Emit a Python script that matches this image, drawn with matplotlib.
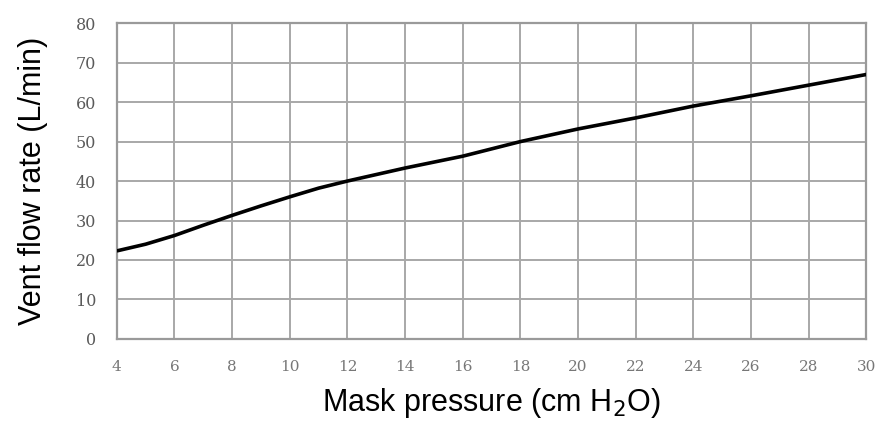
import matplotlib
matplotlib.use("Agg")
import matplotlib.pyplot as plt

pressure = [4, 5, 6, 7, 8, 9, 10, 11, 12, 14, 16, 18, 20, 22, 24, 26, 28, 30]
flow = [22.3, 24.0, 26.2, 28.8, 31.3, 33.7, 36.0, 38.2, 40.0, 43.3, 46.3, 50.0, 53.2, 56.0, 59.0, 61.6, 64.3, 67.0]
x_ticks = [4, 6, 8, 10, 12, 14, 16, 18, 20, 22, 24, 26, 28, 30]
y_ticks = [0, 10, 20, 30, 40, 50, 60, 70, 80]

fig = plt.figure(figsize=(8.85, 4.29), dpi=100)
ax = fig.add_axes([0.132, 0.21, 0.847, 0.736])
ax.plot(pressure, flow, color="black", linewidth=2.6, solid_capstyle="butt", zorder=3)
ax.set_xlim(4, 30)
ax.set_ylim(0, 80)
ax.set_xticks(x_ticks)
ax.set_yticks(y_ticks)
ax.set_xticklabels([str(t) for t in x_ticks], family="DejaVu Serif", fontsize=11, color="#777777")
ax.set_yticklabels([str(t) for t in y_ticks], family="DejaVu Serif", fontsize=11.5, color="#5a5a5a")
ax.tick_params(axis="both", length=0)
ax.tick_params(axis="x", pad=15)
ax.tick_params(axis="y", pad=15)
ax.grid(True, color="#a8a8a8", linewidth=1.4)
ax.set_axisbelow(True)
for s in ax.spines.values():
    s.set_color("#9a9a9a")
    s.set_linewidth(1.6)
ax.set_ylabel("Vent flow rate (L/min)", family="Liberation Sans", fontsize=22, labelpad=20)
ax.set_xlabel("Mask pressure (cm H$_2$O)", family="Liberation Sans", fontsize=22, labelpad=9)
fig.savefig("out.png", dpi=100)
